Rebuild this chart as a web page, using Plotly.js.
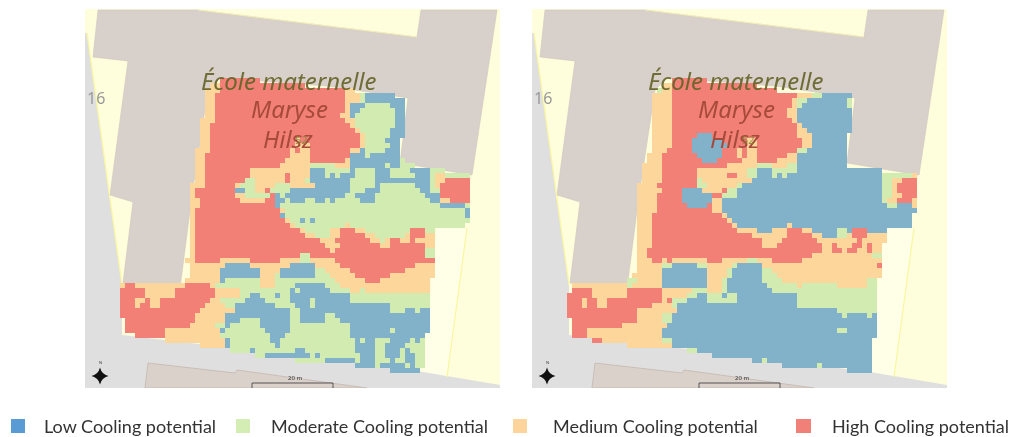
<!DOCTYPE html>
<html><head><meta charset="utf-8">
<script src="https://cdn.plot.ly/plotly-3.0.1.min.js"></script>
<style>html,body{margin:0;padding:0;background:#fff}#c{width:1012px;height:437px;filter:blur(0.45px)}</style>
</head><body><div id="c"></div>
<script>
const categories=["Low Cooling potential","Moderate Cooling potential","Medium Cooling potential","High Cooling potential"];
const mapColors=["#82B2CA","#D2EBB0","#FDD69B","#F28076"];
const swatchColors=["#5B9BD5","#D3EDB5","#FDD59C","#F08078"];
// each row: column where a class starts (L,G,O,R) or a bare column where cover stops
const gridStartX=115, gridStartY=78, cell=5;
const leftRows=[
"21R 29","19O 21R 38","18O 21R 46O 48","18O 20R 46O 49G 50L 56","18O 20R 46O 49G 50L 58","18O 20R 46O 47L 50G 55L 58",
"18O 20R 46O 47L 49G 56L 58","18O 20R 45O 47L 48G 56L 58","17O 20R 46O 48G 56L 58","17O 19R 47O 48G 56L 58","17O 19R 48O 49G 55L 58","17O 19R 49O 50G 55L 58",
"17O 19R 36O 37R 49O 50G 54L 57","17O 19R 36O 39R 49O 50G 55L 57","16O 19R 35O 36R 37O 39R 47O 49L 50G 54L 57","16O 18R 35O 39R 47L 50G 51L 57",
"16O 18R 34O 39R 46O 47L 57G 58","16O 18R 33O 39G 44O 47L 54G 55L 57G 60","16O 18R 27O 39L 42G 47L 48G 52L 55G 59L 63G 66",
"16O 18R 27O 34R 35O 39L 42G 43L 44G 45L 48G 52L 55G 60L 63G 64O 66G 71","16O 18R 26G 28O 34R 35O 38G 39L 47G 52L 63G 64O 66R 71","15O 18R 24O 25G 28O 32G 35O 40L 47G 52L 53G 60L 63G 64O 65R 71",
"15O 16R 24L 26G 28O 30R 31G 35L 47G 50L 53G 61L 63G 65R 71","15O 16R 24O 26G 31R 32L 33G 34L 46G 48L 52G 62L 65R 71",
"15O 17R 25O 30R 32L 34G 35L 38G 40L 42G 43L 44G 49L 52G 63L 65O 67R 71","15O 17R 32L 33G 65L 70G 71","15O 16R 33O 34G 70L 71","15O 16R 33L 34G 70L 71",
"15O 16R 34O 35G 37L 38G 39L 40G 71","15O 16R 35O 36G 46O 47G 70","15O 16R 37O 38G 43O 45R 48O 50G 59R 62G 64","15O 16R 38O 40G 43O 45R 50O 52G 58O 59R 62O 64",
"15O 16R 41O 44R 51O 53G 54O 55R 57O 59R 60O 64","15O 16R 42O 45R 53O 55R 62O 64","15O 16R 43O 44R 62G 64","15O 16R 37G 39R 62G 64",
"14O 16R 21O 27R 33O 37G 39O 44R 64","15O 22L 27O 35L 40O 45R 60O 64","15O 21L 29O 33L 40G 42O 47R 58O 64","15O 21L 29O 32G 33L 40G 43O 48R 55O 64",
"14O 21L 22G 29O 32G 44O 50R 53O 63","1O 2R 4O 14R 19O 20G 29O 32G 36L 42G 45O 63","1R 6O 12R 20O 25G 35L 36G 37L 43G 47O 49G 50O 63","1R 6O 12R 20O 25G 27L 29G 32L 33G 35L 47G 63",
"1R 4O 6R 7O 9R 19O 21G 26L 30G 35L 39G 40L 47G 63","1R 4O 5R 7O 9R 18O 22G 24L 32G 36L 39G 40L 55G 63","1R 17O 24L 35G 37L 55G 58L 60G 61L 63","1R 16O 22L 35G 37L 42G 44L 63",
"2R 16O 22L 25G 29L 35G 37L 42G 45L 63","2R 15O 20G 22L 23G 29L 35G 47L 63","2R 10O 21L 22G 30L 35G 47L 55G 56L 63","4R 10O 21G 31L 34G 47L 62",
"10O 22L 23G 31L 33G 48L 49G 50L 52G 55L 59G 60L 61G 62","17O 22L 23G 32L 33G 48L 52G 54L 58G 62","23G 27L 28G 36L 38G 48L 52G 54L 57G 58L 59G 62","28G 30L 39G 40L 41G 49L 52G 54L 57G 58L 60G 62",
"36G 42L 48G 49L 52G 55L 56G 58L 60G 62","48L 52G 53L 58G 59L 60G 62","55L 61"];
const rightRows=[
"22R 29","20O 22R 39","19G 20O 22R 43","18O 22R 47O 50G 52L 58","18O 22R 46O 47G 49L 57G 58","18O 22R 46O 47G 48L 57G 58",
"18O 22R 45O 47L 58","18O 22R 45O 47L 58","18O 22R 46O 47L 58","18O 22R 47O 48L 58","18O 22R 47O 49L 58","18O 22R 27L 30R 47O 50L 57",
"18O 22R 26L 32R 37O 39R 48O 50L 57","18O 22R 26L 33R 37O 39R 48O 50L 57","18O 21R 26L 32R 35O 36R 37O 39R 47G 49L 57","17O 20R 27L 32R 35O 36R 37O 39R 45O 47L 57",
"17O 20R 28L 31R 36O 39R 43O 47L 57","16O 20R 33O 39G 42O 45G 47L 57","16O 20R 27O 37G 39L 42G 47L 64","16O 20R 27O 33R 35O 37G 39L 42G 43L 44G 45L 64G 70O 71",
"16O 20R 27G 28O 38L 64G 66O 68R 71","15O 19R 27G 29O 35G 36L 64G 66O 67R 71","15O 20R 24L 28O 32R 33G 35L 64G 66O 67R 71","15O 19R 24L 30R 32G 35L 64G 66O 68R 71",
"15O 19R 24L 30O 32L 64G 65O 67R 70O 71","15O 19R 25L 29R 30O 32L 65G 67L 70O 71","15O 19R 30O 32L 71","15O 18R 32O 33L 70",
"15O 18R 33O 34L 70","15O 18R 34O 35L 45O 46L 70","15O 18R 35O 39L 42O 45R 48O 50L 55G 57L 58R 61L 65","15O 18R 38O 42O 45R 50O 52L 55G 57O 58R 61O 65",
"15O 18R 40O 44R 51O 59R 60O 65","15O 18R 40O 43R 52O 54R 55O 58R 60O 61R 62O 64","15O 17R 52O 54R 56O 57R 59O 61R 62O 64","15O 17R 50O 62G 64",
"15O 18R 20O 21R 22O 29R 32O 37G 39O 42R 48O 64","15O 20G 22L 27G 29O 34G 35L 40O 63R 64","15O 20L 29O 33G 34L 40G 42O 64","14O 20L 29O 33G 34L 40G 43O 64",
"13G 15O 20L 29O 32G 33L 40G 44O 61G 63","2O 13G 14O 20L 29O 32G 33L 41G 47O 48G 55O 61G 63","2R 6O 13R 20O 26G 29O 32G 33L 42G 63","1R 6O 13R 20O 25G 27L 29G 32L 33G 35L 47G 63",
"1R 4O 5R 7O 9R 20O 21R 22G 25L 29G 35L 47G 63","1R 4O 5R 7O 9R 18O 22G 23L 47G 63","1R 15O 23L 55G 63","1R 15O 20G 22L 56G 57L 61G 62L 63",
"2R 15O 20G 22L 63","2R 12O 21L 63","2R 5O 20L 55G 57L 63","2R 5O 20L 63",
"6R 8O 20G 22L 62","13O 22L 62","25G 27L 62","30L 62",
"38L 40G 41L 62","44L 51G 52L 62","57L 62"];
// base map outlines, in the left panel's page pixels
const buildingMain=[[98,10],[198,10],[417,37],[421,10],[497,10],[472,175],[400,163],[408,98],[328,86],[220,78],[208,90],[192,195],[180,288],[123,283],[133,202],[110,195],[128,61],[93,57]];
const roadArea=[[85,33],[87,33],[110,200],[122,285],[122,335],[225,347],[423,372],[500,385],[500,388],[85,388]];
const buildingSouth=[[148,363],[235,373],[237,370],[367,388],[145,388]];
const yardArea=[[437,228],[467,228],[447,377],[423,372]];
const parcelLine1=[[467,228],[447,377]], parcelLine2=[[87,33],[122,285]], parcelLine3=[[198,10],[417,37]];
const scaleBar=[[252,388],[252,383],[333,383],[333,388]];
const panelX=[85,500], panelY=[388,9], shiftLeft=85, shiftRight=532, panelW=415;

const idx={L:0,G:1,O:2,R:3};
function decode(rows){return rows.map(r=>{const a=new Array(72).fill(null);let toks=r.split(" ");
  toks.forEach((t,i)=>{const m=t.match(/^(\d+)([LGOR]?)$/);if(!m||!m[2])return;const s=+m[1];const n=i+1<toks.length?parseInt(toks[i+1]):s+1;for(let c=s;c<n&&c<72;c++)a[c]=idx[m[2]];});return a;});}
const cs=[[0,mapColors[0]],[.25,mapColors[0]],[.25,mapColors[1]],[.5,mapColors[1]],[.5,mapColors[2]],[.75,mapColors[2]],[.75,mapColors[3]],[1,mapColors[3]]];
function hm(rows,ax,ay){return{type:"heatmap",z:decode(rows).map(r=>r.map(v=>v===null?null:v+0.5)),x0:gridStartX+cell/2,dx:cell,y0:gridStartY+cell/2,dy:cell,xaxis:ax,yaxis:ay,zmin:0,zmax:4,colorscale:cs,showscale:false,hoverinfo:"skip",zsmooth:false};}
function star(ax,ay){return{type:"scatter",mode:"markers",x:[100],y:[376],xaxis:ax,yaxis:ay,showlegend:false,hoverinfo:"skip",marker:{symbol:"star-diamond",size:12,color:"#111"}};}
const data=[hm(leftRows,"x","y"),hm(rightRows,"x2","y2"),star("x","y"),star("x2","y2")];
function poly(pts){return "M"+pts.map(p=>p.join(",")).join("L")+"Z";}
function open(pts){return "M"+pts.map(p=>p.join(",")).join("L");}
const shapes=[];
["x","x2"].forEach((xr,i)=>{const yr=i?"y2":"y";
 const add=(path,fill,line,w)=>shapes.push({type:"path",path,xref:xr,yref:yr,layer:"below",fillcolor:fill,line:{color:line,width:w||0}});
 add(poly([[85,9],[500,9],[500,388],[85,388]]),"#FEFDDC","#FEFDDC",0);
 add(poly(yardArea),"#FFFFE8","#FFFFE8",0);
 add(poly(roadArea),"#DFDFDF","#DFDFDF",0);
 add(poly(buildingMain),"#D8D0CB","#CFC6BC",0.6);
 add(poly(buildingSouth),"#DBD1CB","#C4B8AE",0.8);
 add(open(parcelLine1),"rgba(0,0,0,0)","#FAF6A0",1.2);
 add(open(parcelLine2),"rgba(0,0,0,0)","#FAF6A0",1.2);
 add(open(parcelLine3),"rgba(0,0,0,0)","#F8F4B0",0.8);
 add(open(scaleBar),"rgba(0,0,0,0)","#555",1);
});
const W=1012,H=437;
const swatchX=[[11,25],[236,250],[513,527],[796,811]];
const labelX=[42,269,551,830];
swatchX.forEach((s,i)=>shapes.push({type:"rect",xref:"paper",yref:"paper",x0:s[0]/W,x1:s[1]/W,y0:1-433/H,y1:1-419/H,fillcolor:swatchColors[i],line:{width:0}}));
const annotations=categories.map((t,i)=>({xref:"paper",yref:"paper",x:labelX[i]/W,y:1-426/H,xanchor:"left",yanchor:"middle",showarrow:false,text:t,font:{family:"Lato",size:18,color:"#333"}}));
["x","x2"].forEach((xr,i)=>{const yr=i?"y2":"y";
 const T=(text,x,y,size,color,ital)=>annotations.push({xref:xr,yref:yr,x,y,text:ital?"<i>"+text+"</i>":text,showarrow:false,xanchor:"center",yanchor:"middle",font:{family:"Noto Sans",size,color}});
 T("École maternelle",289,80,24,"rgba(100,100,40,0.92)",true);
 T("Maryse",289,108,24,"#A64B3C",true);
 T("Hilsz",288,138,24,"#A64B3C",true);
 T("52",301,139,11,"rgba(130,130,50,0.8)",false);
 T("16",96,98,16,"#999999",false);
 T("20 m",295,378,6,"#333",false);
 T("N",100,362,4,"#333",false);
});
const axis={visible:false,fixedrange:true,showgrid:false,zeroline:false};
const layout={width:W,height:H,margin:{l:0,r:0,t:0,b:0},paper_bgcolor:"#fff",plot_bgcolor:"#FEFDDC",showlegend:false,shapes,annotations,
 xaxis:{...axis,domain:[shiftLeft/W,(shiftLeft+panelW)/W],range:panelX},
 yaxis:{...axis,domain:[1-388/H,1-9/H],range:panelY},
 xaxis2:{...axis,domain:[shiftRight/W,(shiftRight+panelW)/W],range:panelX},
 yaxis2:{...axis,domain:[1-388/H,1-9/H],range:panelY}};
Plotly.newPlot("c",data,layout,{staticPlot:true,displayModeBar:false});
</script></body></html>
